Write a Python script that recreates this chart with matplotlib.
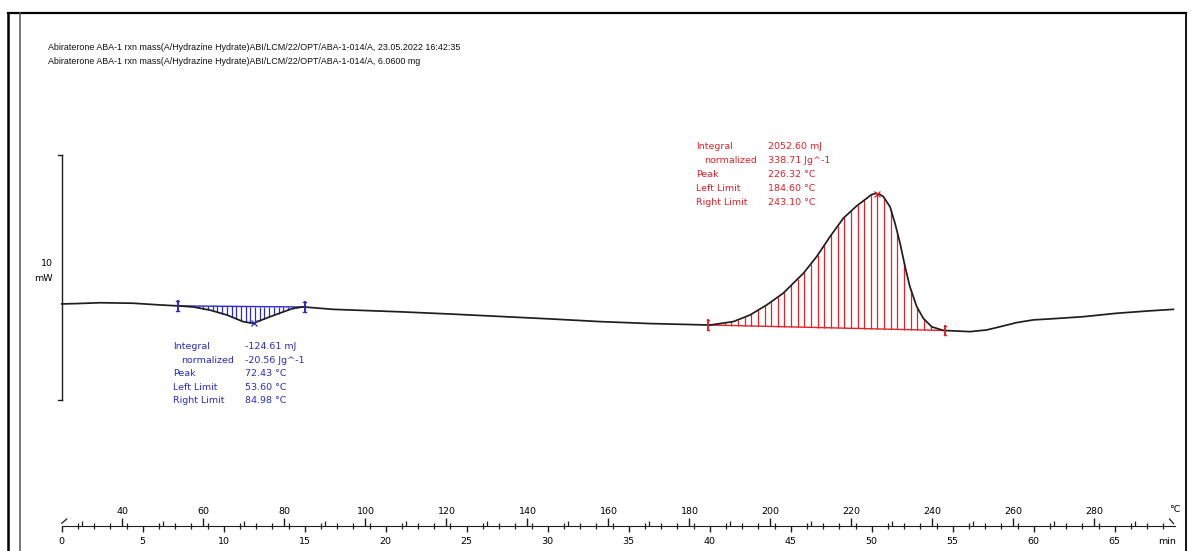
import numpy as np
import matplotlib.pyplot as plt
from matplotlib.lines import Line2D

# --- data ---
# time (min) and heat flow (mW, exo up)
time_min = [0.0, 1.13, 2.36, 4.40, 6.07, 7.20, 8.10, 9.15, 10.20, 11.19, 11.81,
            12.67, 13.48, 14.28, 14.91, 16.75, 20.88, 23.97, 27.06, 30.14, 33.23,
            36.31, 38.78, 40.02, 41.46, 42.49, 43.52, 44.54, 45.78, 46.60, 47.43,
            48.25, 49.07, 49.69, 49.95, 50.27, 50.51, 50.72, 51.13, 51.44, 51.75,
            52.06, 52.36, 52.78, 53.19, 53.70, 54.42, 56.07, 57.10, 57.92, 58.95,
            59.98, 61.01, 63.06, 65.12, 67.18, 68.62]
heat_mw = [3.92, 3.94, 3.97, 3.95, 3.88, 3.84, 3.80, 3.67, 3.47, 3.20, 3.13,
           3.35, 3.55, 3.74, 3.80, 3.70, 3.60, 3.51, 3.41, 3.31, 3.20,
           3.12, 3.08, 3.06, 3.20, 3.47, 3.88, 4.36, 5.17, 5.85, 6.67,
           7.42, 7.92, 8.23, 8.37, 8.44, 8.39, 8.30, 7.89, 7.21, 6.40,
           5.44, 4.62, 3.81, 3.33, 2.99, 2.84, 2.79, 2.86, 2.99, 3.16,
           3.27, 3.31, 3.40, 3.54, 3.64, 3.70]

header_lines = [
    "Abiraterone ABA-1 rxn mass(A/Hydrazine Hydrate)ABI/LCM/22/OPT/ABA-1-014/A, 23.05.2022 16:42:35",
    "Abiraterone ABA-1 rxn mass(A/Hydrazine Hydrate)ABI/LCM/22/OPT/ABA-1-014/A, 6.0600 mg",
]

eval_labels = ["Integral", "normalized", "Peak", "Left Limit", "Right Limit"]
endo_values = ["-124.61 mJ", "-20.56 Jg^-1", "72.43 °C", "53.60 °C", "84.98 °C"]
exo_values = ["2052.60 mJ", "338.71 Jg^-1", "226.32 °C", "184.60 °C", "243.10 °C"]
endo_limits_c = [53.60, 84.98]
endo_peak_c = 72.43
exo_limits_c = [184.60, 243.10]
exo_peak_c = 226.32

start_temp = 25.0     # °C at t = 0
heating_rate = 4.0    # K/min
temp_ticks = [40, 60, 80, 100, 120, 140, 160, 180, 200, 220, 240, 260, 280]
temp_minor = list(range(30, 300, 10))
time_ticks = list(range(0, 70, 5))
time_minor = list(range(0, 69))
time_end = 68.75

# --- layout (pixels of the 1191x551 picture) ---
W, H = 1191, 551
X0, PX_MIN = 61.7, 16.2      # pixel column of t=0, px per minute
Y0, PX_MW = 400.0, 24.5      # pixel row of 0 mW, px per mW
AXIS_Y = 526

BLUE = '#2b2bc8'
RED = '#e0222a'
CURVE = '#1e1e1e'


def t_of_c(c):
    return (np.asarray(c) - start_temp) / heating_rate


def c_of_t(t):
    return start_temp + heating_rate * np.asarray(t)


def pix(x, y):
    # picture pixel -> data coords of the main axes
    return (x - X0) / PX_MIN, (Y0 - y) / PX_MW


fig = plt.figure(figsize=(W / 100, H / 100), dpi=100)
ax = fig.add_axes([0, 0, 1, 1])
ax.set_xlim(-X0 / PX_MIN, (W - X0) / PX_MIN)
ax.set_ylim((Y0 - H) / PX_MW, Y0 / PX_MW)
ax.axis('off')

# frame of the window
def fline(xs, ys, **kw):
    fig.add_artist(Line2D([x / W for x in xs], [1 - y / H for y in ys], **kw))

fline([7.5, 7.5], [13, H], color='black', lw=1.8)
fline([7.5, 1186], [13, 13], color='black', lw=1.6)
fline([1186, 1186], [13, H], color='black', lw=1.3)
fline([20, 20], [13, H], color='#555555', lw=1.1)

# header
for i, line in enumerate(header_lines):
    fig.text(48 / W, 1 - (48 + i * 13) / H, line, fontsize=6.4, va='center',
             ha='left', color='#111111', family='Liberation Sans')

# scale bar 10 mW
ax.plot([0, 0], [0, 10], color=CURVE, lw=1.0)
ax.plot([-0.25, 0], [10, 10], color=CURVE, lw=1.0)
ax.plot([-0.25, 0], [0, 0], color=CURVE, lw=1.0)
ax.text(*pix(52.5, 263.5), "10", fontsize=6.8, ha='right', va='center')
ax.text(*pix(52.5, 278.5), "mW", fontsize=6.8, ha='right', va='center')

# curve
ax.plot(time_min, heat_mw, color=CURVE, lw=1.25, zorder=3)


def evaluation(limits_c, peak_c, color, step):
    t1, t2 = t_of_c(limits_c)
    b1, b2 = np.interp([t1, t2], time_min, heat_mw)
    ax.plot([t1, t2], [b1, b2], color=color, lw=1.0, zorder=2)
    ts = np.arange(t1 + step / 2, t2, step)
    base = b1 + (b2 - b1) * (ts - t1) / (t2 - t1)
    ax.vlines(ts, base, np.interp(ts, time_min, heat_mw), color=color, lw=0.9, zorder=2)
    for t, b in [(t1, b1), (t2, b2)]:
        ax.plot([t, t], [b - 0.2, b + 0.2], color=color, lw=1.4, zorder=4)
        ax.plot([t - 0.08, t + 0.08], [b + 0.2, b + 0.2], color=color, lw=1.0, zorder=4)
        ax.plot([t - 0.08, t + 0.08], [b - 0.2, b - 0.2], color=color, lw=1.0, zorder=4)
    tp = t_of_c(peak_c)
    ax.plot(tp, np.interp(tp, time_min, heat_mw), marker='x', ms=4, mew=0.9,
            color=color, zorder=4)


evaluation(endo_limits_c, endo_peak_c, BLUE, 0.29)
evaluation(exo_limits_c, exo_peak_c, RED, 0.41)


def eval_text(x_lab, x_val, y_top, dy, values, color):
    for i, (lab, val) in enumerate(zip(eval_labels, values)):
        y = y_top + i * dy
        xl = x_lab + (8 if i == 1 else 0)
        ax.text(*pix(xl, y), lab, fontsize=6.8, color=color, ha='left', va='center')
        ax.text(*pix(x_val, y), val, fontsize=6.8, color=color, ha='left', va='center')


eval_text(172.7, 245, 346.7, 13.5, endo_values, BLUE)
eval_text(695.7, 768.3, 146.7, 13.9, exo_values, RED)

# bottom axis: time below, temperature above
ax_t = fig.add_axes([0, 1 - AXIS_Y / H, 1, 1e-5])
ax_t.set_xlim(ax.get_xlim())
ax_t.patch.set_alpha(0)
for s in ['left', 'right', 'top']:
    ax_t.spines[s].set_visible(False)
ax_t.spines['bottom'].set_bounds(0, time_end)
ax_t.spines['bottom'].set_color(CURVE)
ax_t.set_yticks([])
ax_t.set_xticks(time_ticks)
ax_t.set_xticks(time_minor, minor=True)
ax_t.tick_params(axis='x', which='major', direction='out', length=4.3, width=1.0,
                 pad=3.5, labelsize=6.8, color=CURVE)
ax_t.tick_params(axis='x', which='minor', direction='inout', length=4.0, width=0.9,
                 color=CURVE)

sec = ax_t.secondary_xaxis('top', functions=(c_of_t, t_of_c))
sec.spines['top'].set_visible(False)
sec.set_xticks(temp_ticks)
sec.set_xticks(temp_minor, minor=True)
sec.tick_params(axis='x', which='major', direction='out', length=5.5, width=1.0,
                pad=2.0, labelsize=6.8, color=CURVE)
sec.tick_params(axis='x', which='minor', direction='out', length=3.6, width=0.9,
                color=CURVE)

# axis break mark and end mark
ax.plot(*zip(pix(61.7, 523.3), pix(66.7, 519.0)), color=CURVE, lw=0.9)
ax.plot(*zip(pix(1169.5, 519.0), pix(1173.5, 523.5)), color=CURVE, lw=0.9)
ax.text(*pix(1175, 510), "°C", fontsize=6.8, ha='center', va='center')
ax.text(*pix(1167, 542), "min", fontsize=6.8, ha='center', va='center')

fig.savefig("out.png", dpi=100)
